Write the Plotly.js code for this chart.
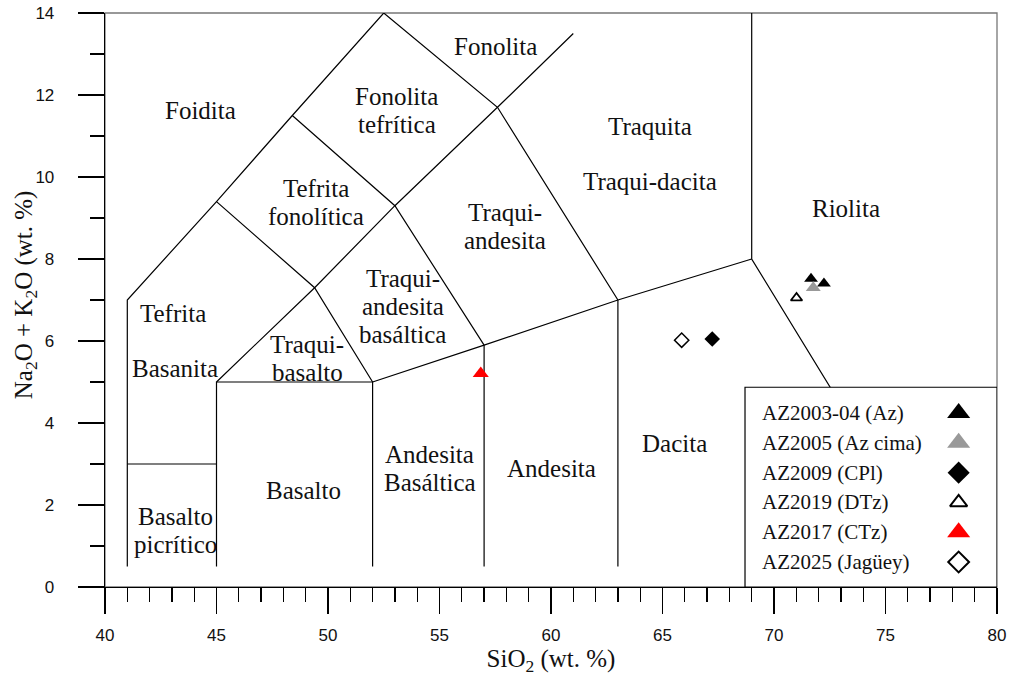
<!DOCTYPE html>
<html>
<head>
<meta charset="utf-8">
<script src="https://cdn.plot.ly/plotly-3.0.1.min.js"></script>
<style>html,body{margin:0;padding:0;background:#fff;}#chart{width:1010px;height:676px;}</style>
</head>
<body>
<div id="chart"></div>
<script>
// ---- Sample data (SiO2 vs Na2O+K2O, wt. %) ----
const seriesNames = ['AZ2003-04 (Az)', 'AZ2005 (Az cima)', 'AZ2009 (CPl)', 'AZ2019 (DTz)', 'AZ2017 (CTz)', 'AZ2025 (Jagüey)'];
const sio2 = [[71.66, 72.24], [71.76], [67.23], [71.01], [56.85], [65.86]];
const alkalis = [[7.52, 7.40], [7.30], [6.05], [7.05], [5.21], [6.02]];

// ---- TAS field boundaries (SiO2, Na2O+K2O) ----
const boundaryLines = [
  [[41, 0.5], [41, 7], [45, 9.4], [48.4, 11.5], [52.5, 14]],
  [[41, 3], [45, 3]],
  [[45, 0.5], [45, 5], [52, 5], [52, 0.5]],
  [[45, 5], [49.4, 7.3], [53, 9.3], [57.6, 11.7], [61, 13.5]],
  [[45, 9.4], [49.4, 7.3], [52, 5]],
  [[48.4, 11.5], [53, 9.3], [57, 5.9]],
  [[52.5, 14], [57.6, 11.7], [63, 7]],
  [[52, 5], [57, 5.9], [63, 7], [69, 8]],
  [[57, 0.5], [57, 5.9]],
  [[63, 0.5], [63, 7]],
  [[69, 14], [69, 8], [78, 0]]
];

// ---- Field names and their anchor points (data coordinates) ----
const fieldNames = ['Foidita', 'Fonolita', 'Fonolita<br>tefrítica', 'Traquita', 'Traqui-dacita', 'Riolita',
  'Tefrita<br>fonolítica', 'Traqui-<br>andesita', 'Tefrita', 'Traqui-<br>andesita<br>basáltica',
  'Traqui-<br>basalto', 'Basanita', 'Basalto', 'Basalto<br>picrítico', 'Andesita<br>Basáltica', 'Andesita', 'Dacita'];
const fieldX = [44.26, 57.49, 53.09, 64.44, 64.44, 73.23, 49.46, 57.94, 43.05, 53.36, 49.06, 43.14, 48.88, 43.14, 54.57, 60.0, 65.56];
const fieldY = [11.63, 13.19, 11.63, 11.24, 9.90, 9.24, 9.38, 8.80, 6.68, 6.85, 5.58, 5.34, 2.36, 1.37, 2.90, 2.90, 3.51];

// ---- Styles ----
const symbols = ['triangle-up', 'triangle-up', 'diamond', 'triangle-up-open', 'triangle-up', 'diamond-open'];
const colors = ['#000000', '#999999', '#000000', '#000000', '#ff0000', '#000000'];
const plotSizes = [12, 13, 12, 10, 14, 11];
const legendSizes = [20, 20, 17, 15, 20, 16];
const lineWidths = [0, 0, 0, 1.8, 0, 1.5];

const serif = 'Liberation Serif, Times New Roman, serif';
const sans = 'Liberation Sans, Arial, sans-serif';
const labelLineGap = 0.68; // vertical spacing between label lines, in y-axis units

const traces = [];
boundaryLines.forEach(seg => {
  traces.push({
    x: seg.map(p => p[0]), y: seg.map(p => p[1]),
    type: 'scatter', mode: 'lines', line: {color: '#000', width: 1.2},
    hoverinfo: 'skip', showlegend: false
  });
});
seriesNames.forEach((name, i) => {
  traces.push({
    x: sio2[i], y: alkalis[i], name: name, type: 'scatter', mode: 'markers',
    marker: {symbol: symbols[i], size: plotSizes[i], color: colors[i], line: {width: lineWidths[i], color: colors[i]}},
    showlegend: false, cliponaxis: false
  });
});

// ---- Custom legend (text left, symbol right) on an overlay frame 0..1 ----
const legLeft = 0.7175, legRight = 1.0, legBottom = 0.0, legTop = 0.348;
const rowTop = 0.329, rowStep = 0.0519;
traces.push({
  x: [legLeft, legRight, legRight, legLeft, legLeft], y: [legBottom, legBottom, legTop, legTop, legBottom],
  xaxis: 'x2', yaxis: 'y2', type: 'scatter', mode: 'lines', fill: 'toself', fillcolor: '#ffffff',
  line: {color: '#000', width: 1.2}, hoverinfo: 'skip', showlegend: false
});
const annotations = [];
seriesNames.forEach((name, i) => {
  const ry = rowTop - (i + 0.5) * rowStep;
  traces.push({
    x: [0.957], y: [ry], xaxis: 'x2', yaxis: 'y2', type: 'scatter', mode: 'markers',
    marker: {symbol: symbols[i], size: legendSizes[i], color: colors[i], line: {width: lineWidths[i] ? 2 : 0, color: colors[i]}},
    hoverinfo: 'skip', showlegend: false, cliponaxis: false
  });
  annotations.push({
    xref: 'paper', yref: 'paper', x: 0.734, y: ry, xanchor: 'left', yanchor: 'middle',
    text: name, showarrow: false, font: {family: serif, size: 21, color: '#111'}
  });
});
fieldNames.forEach((t, i) => {
  const lines = t.split('<br>');
  const n = lines.length;
  lines.forEach((ln, k) => {
    annotations.push({
      xref: 'x', yref: 'y', x: fieldX[i], y: fieldY[i] + ((n - 1) / 2 - k) * labelLineGap,
      text: ln, showarrow: false, xanchor: 'center', yanchor: 'middle',
      font: {family: serif, size: 25, color: '#111'}
    });
  });
});
// y-axis title placed as rotated annotation
annotations.push({
  xref: 'paper', yref: 'paper', x: -0.0897, y: 0.51, xanchor: 'center', yanchor: 'middle',
  textangle: -90, showarrow: false,
  text: 'Na<sub>2</sub>O + K<sub>2</sub>O (wt. %)', font: {family: serif, size: 25, color: '#111'}
});

const layout = {
  width: 1010, height: 676,
  margin: {l: 105, r: 13, t: 13, b: 89, pad: 0},
  paper_bgcolor: '#fff', plot_bgcolor: '#fff',
  showlegend: false,
  xaxis: {
    range: [40, 80], tick0: 40, dtick: 5, ticks: 'outside', ticklen: 26, tickwidth: 1.3, tickcolor: '#000',
    showline: true, linecolor: '#000', linewidth: 1.3, showgrid: false, zeroline: false,
    tickfont: {family: sans, size: 17, color: '#111'}, ticklabelstandoff: 6,
    minor: {dtick: 1, ticks: 'outside', ticklen: 14, tickwidth: 1.3, tickcolor: '#000', showgrid: false},
    title: {text: 'SiO<sub>2</sub> (wt. %)', font: {family: serif, size: 25, color: '#111'}, standoff: 3},
    automargin: false
  },
  yaxis: {
    range: [0, 14], tick0: 0, dtick: 2, ticks: 'outside', ticklen: 26, tickwidth: 1.3, tickcolor: '#000',
    showline: true, linecolor: '#000', linewidth: 1.3, showgrid: false, zeroline: false,
    tickfont: {family: sans, size: 17, color: '#111'}, ticklabelstandoff: 20,
    minor: {dtick: 1, ticks: 'outside', ticklen: 14, tickwidth: 1.3, tickcolor: '#000', showgrid: false},
    automargin: false
  },
  xaxis2: {overlaying: 'x', range: [0, 1], visible: false, fixedrange: true},
  yaxis2: {overlaying: 'y', range: [0, 1], visible: false, fixedrange: true},
  shapes: [{
    type: 'rect', xref: 'paper', yref: 'paper', x0: 0, x1: 1, y0: 0, y1: 1,
    line: {color: '#777', width: 1.3}, layer: 'below'
  }],
  annotations: annotations
};

Plotly.newPlot('chart', traces, layout, {displayModeBar: false, staticPlot: true});
</script>
</body>
</html>
